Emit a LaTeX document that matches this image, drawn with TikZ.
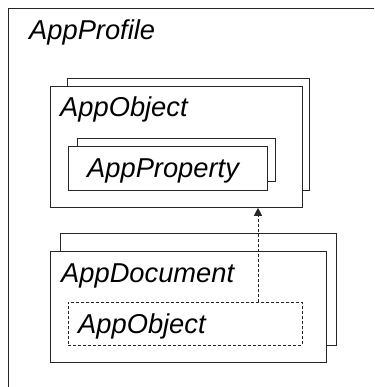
\documentclass[tikz,border=0pt]{standalone}
\usepackage{fontspec}
\setmainfont{Liberation Sans}
\usetikzlibrary{arrows.meta}
\begin{document}
\begin{tikzpicture}[x=1pt,y=-1pt,
  box/.style={draw=black!85,line width=0.8pt,fill=white,inner sep=0pt,anchor=north west},
  dbox/.style={box,dashed,dash pattern=on 3pt off 2pt},
  lbl/.style={inner sep=0pt,anchor=base west,font=\fontsize{27.3}{30}\selectfont\itshape},
  dep/.style={draw=black!85,line width=0.8pt,dash pattern=on 3pt off 2pt,-{Triangle[length=8pt,width=8pt]}}]
\useasboundingbox (0,0) rectangle (374,387);
% outer AppProfile container (clipped at right and bottom)
\coordinate (pr) at (374,8);
\coordinate (ptl) at (8,8);
\coordinate (pb) at (8,387);
\draw[black!85,line width=0.8pt] (pr) -- (ptl) -- (pb);
\node[lbl] (tprof) at (29,40) {AppProfile};
% AppObject stack
\node[box,minimum width=242pt,minimum height=112pt] (objback) at (67,78) {};
\node[box,minimum width=252pt,minimum height=121pt] (obj) at (50,86) {};
\node[lbl] (tobj) at (60,117) {AppObject};
% AppProperty stack
\node[box,minimum width=198pt,minimum height=43pt] (propback) at (77,138) {};
\node[box,minimum width=199pt,minimum height=44pt] (prop) at (68,146) {};
\node[lbl] (tprop) at (87,177) {AppProperty};
% AppDocument stack
\node[box,minimum width=276pt,minimum height=112pt] (docback) at (60,233) {};
\node[box,minimum width=276pt,minimum height=111pt] (doc) at (50,251) {};
\node[lbl] (tdoc) at (61,282) {AppDocument};
% dashed AppObject reference
\node[dbox,minimum width=234pt,minimum height=43pt] (dobj) at (68,302) {};
\node[lbl] (tdobj) at (78,333) {AppObject};
% dependency arrow
\coordinate (ax) at (258,0);
\draw[dep] (dobj.north -| ax) -- (obj.south -| ax);
\end{tikzpicture}
\end{document}
